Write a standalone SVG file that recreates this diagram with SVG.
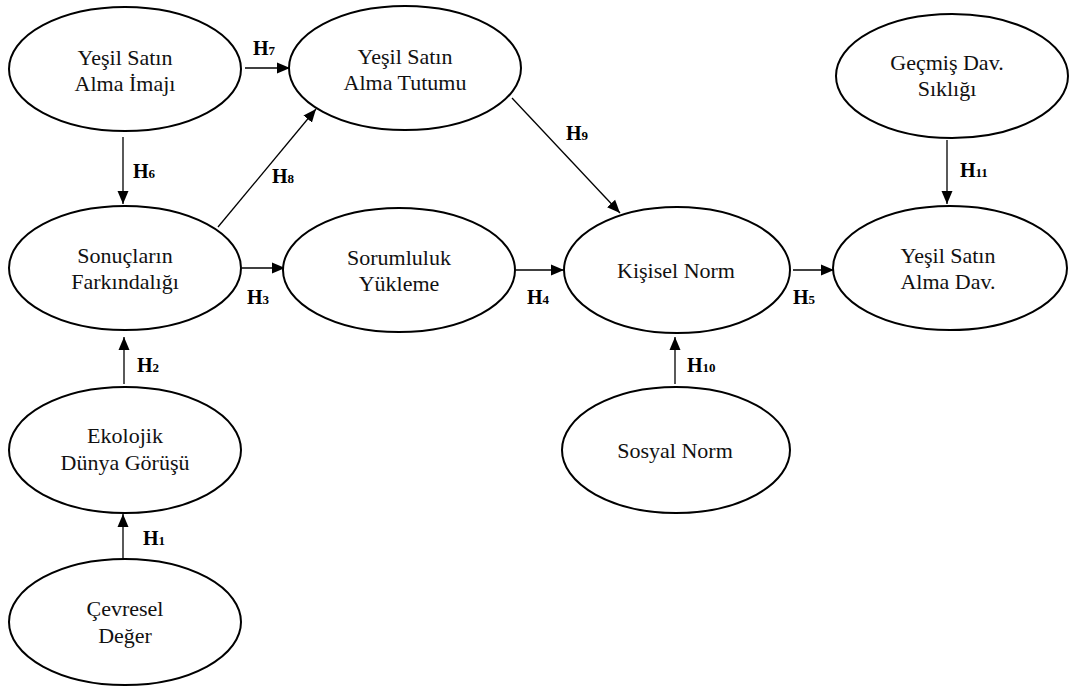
<svg xmlns="http://www.w3.org/2000/svg" width="1071" height="686" viewBox="0 0 1071 686">
<style>
.node ellipse{fill:#fff;stroke:#000;stroke-width:2}
.node text{font-family:'Liberation Serif','Times New Roman',Times,serif;font-size:22px;fill:#111;text-anchor:middle}
.edge line{stroke:#000;stroke-width:1.3;marker-end:url(#ah)}
.lbl{font-family:'Liberation Serif','Times New Roman',Times,serif;font-size:20px;font-weight:bold;fill:#000}
.lbl tspan{font-size:13px}
</style>
<defs>
<marker id="ah" markerUnits="userSpaceOnUse" markerWidth="14" markerHeight="12" refX="13" refY="6" orient="auto">
<path d="M0,0.5 L13,6 L0,11.5 Z" fill="#000"/>
</marker>
</defs>
<rect width="1071" height="686" fill="#fff"/>
<g id="connectors" class="edge">
<line x1="245" y1="68" x2="290" y2="68"/>
<line x1="123" y1="137" x2="123" y2="204"/>
<line x1="218" y1="227" x2="316" y2="109"/>
<line x1="242" y1="268" x2="285" y2="268"/>
<line x1="512" y1="98" x2="620" y2="213"/>
<line x1="516" y1="270" x2="564" y2="270"/>
<line x1="793" y1="270" x2="834" y2="270"/>
<line x1="947" y1="140" x2="947" y2="204"/>
<line x1="124" y1="384" x2="124" y2="337"/>
<line x1="123" y1="559" x2="123" y2="514"/>
<line x1="675" y1="384" x2="675" y2="337"/>
</g>
<g id="labels" font-family="Liberation Serif, serif">
<text class="lbl" x="253" y="55">H<tspan>7</tspan></text>
<text class="lbl" x="133" y="178">H<tspan>6</tspan></text>
<text class="lbl" x="272" y="183">H<tspan>8</tspan></text>
<text class="lbl" x="247" y="304">H<tspan>3</tspan></text>
<text class="lbl" x="566" y="140">H<tspan>9</tspan></text>
<text class="lbl" x="960" y="177">H<tspan>11</tspan></text>
<text class="lbl" x="527" y="304">H<tspan>4</tspan></text>
<text class="lbl" x="793" y="304">H<tspan>5</tspan></text>
<text class="lbl" x="137" y="372">H<tspan>2</tspan></text>
<text class="lbl" x="143" y="545">H<tspan>1</tspan></text>
<text class="lbl" x="687" y="372">H<tspan>10</tspan></text>
</g>
<g id="n1" class="node" font-family="Liberation Serif, serif"><ellipse cx="125" cy="69" rx="116" ry="62"/><text x="125" y="65">Yeşil Satın</text><text x="125" y="91">Alma İmajı</text></g>
<g id="n2" class="node" font-family="Liberation Serif, serif"><ellipse cx="405" cy="68" rx="116" ry="62"/><text x="405" y="64">Yeşil Satın</text><text x="405" y="90">Alma Tutumu</text></g>
<g id="n3" class="node" font-family="Liberation Serif, serif"><ellipse cx="125" cy="268" rx="116" ry="62"/><text x="125" y="263">Sonuçların</text><text x="125" y="289">Farkındalığı</text></g>
<g id="n4" class="node" font-family="Liberation Serif, serif"><ellipse cx="399" cy="270" rx="116" ry="62"/><text x="399" y="265">Sorumluluk</text><text x="399" y="291">Yükleme</text></g>
<g id="n5" class="node" font-family="Liberation Serif, serif"><ellipse cx="677" cy="270" rx="113" ry="63"/><text x="676" y="278">Kişisel Norm</text></g>
<g id="n6" class="node" font-family="Liberation Serif, serif"><ellipse cx="950" cy="268" rx="117" ry="62"/><text x="948" y="263">Yeşil Satın</text><text x="948" y="289">Alma Dav.</text></g>
<g id="n7" class="node" font-family="Liberation Serif, serif"><ellipse cx="952" cy="76" rx="116" ry="62"/><text x="947" y="70">Geçmiş Dav.</text><text x="947" y="96">Sıklığı</text></g>
<g id="n8" class="node" font-family="Liberation Serif, serif"><ellipse cx="125" cy="450" rx="116" ry="63"/><text x="125" y="443">Ekolojik</text><text x="125" y="470">Dünya Görüşü</text></g>
<g id="n9" class="node" font-family="Liberation Serif, serif"><ellipse cx="125" cy="622" rx="116" ry="63"/><text x="125" y="616">Çevresel</text><text x="125" y="643">Değer</text></g>
<g id="n10" class="node" font-family="Liberation Serif, serif"><ellipse cx="676" cy="450" rx="114" ry="63"/><text x="675" y="458">Sosyal Norm</text></g>
</svg>
